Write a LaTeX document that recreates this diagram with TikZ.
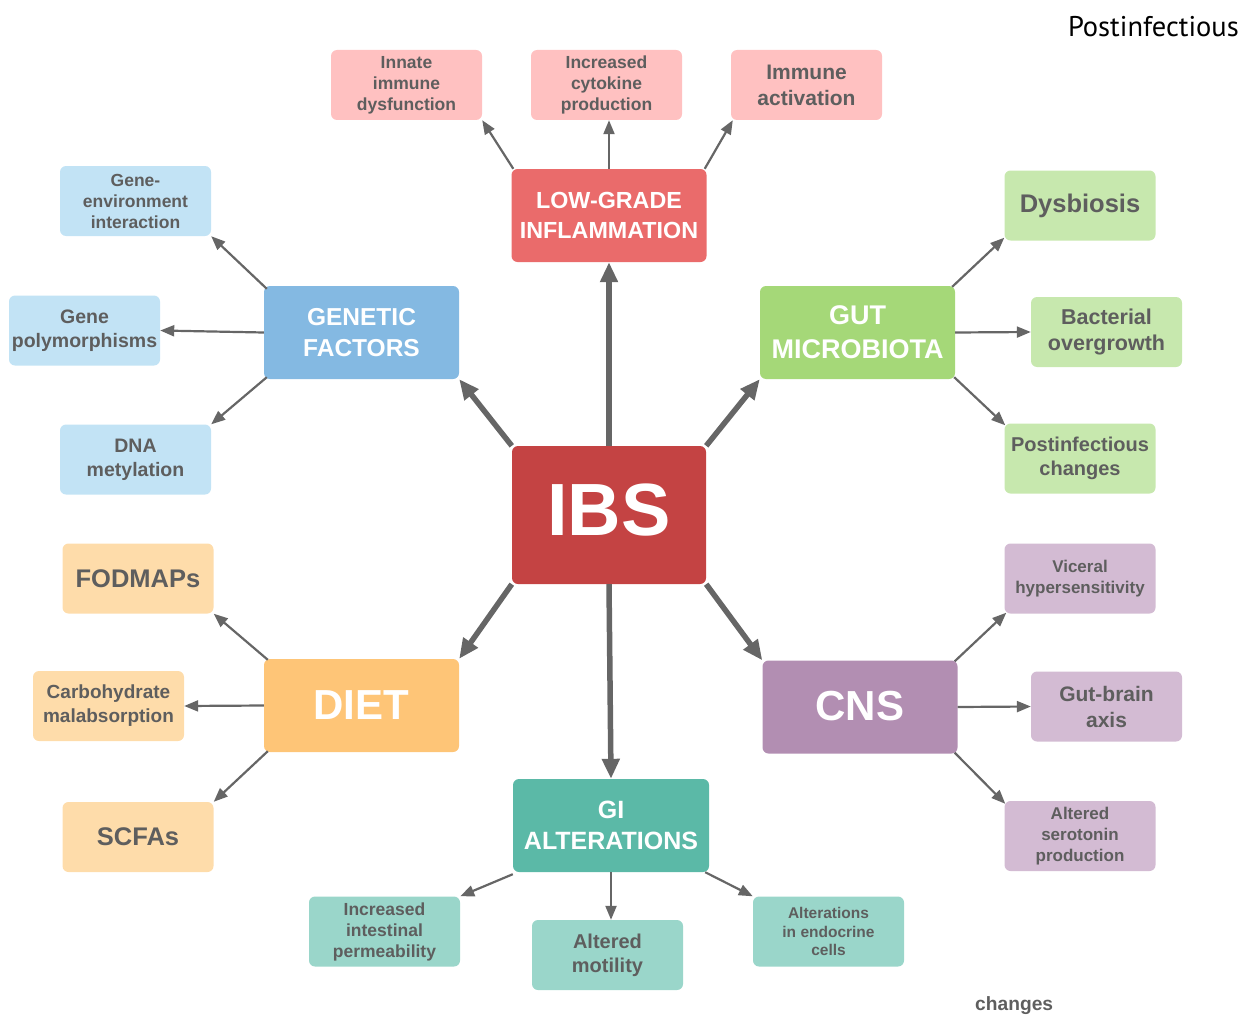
\documentclass[tikz,border=0pt]{standalone}
\usepackage{fontspec}
\setmainfont{Liberation Sans}
\newfontfamily\labelf{PT Sans}
\usetikzlibrary{arrows.meta}
\definecolor{cibs}{HTML}{C44343}
\definecolor{clgi}{HTML}{EA6B6B}
\definecolor{cpink}{HTML}{FFC1C1}
\definecolor{cgen}{HTML}{84B9E2}
\definecolor{cblue}{HTML}{C2E3F5}
\definecolor{cgut}{HTML}{A5D878}
\definecolor{cgreen}{HTML}{C7E8AE}
\definecolor{cdiet}{HTML}{FEC577}
\definecolor{corange}{HTML}{FEDCAA}
\definecolor{ccns}{HTML}{B28EB2}
\definecolor{cpurple}{HTML}{D3BBD3}
\definecolor{cgi}{HTML}{5BB9A7}
\definecolor{cteal}{HTML}{9AD6CA}
\definecolor{carrow}{HTML}{666666}
\definecolor{ctext}{HTML}{5E5E5E}
\newcommand\fsz[2]{\fontsize{#1}{#2}\selectfont}
\begin{document}
\begin{tikzpicture}[x=1pt,y=-1pt,
  box/.style={rounded corners=6pt, inner sep=0pt, align=center},
  mainbox/.style={box, text=white, minimum width=195, minimum height=93},
  subbox/.style={box, text=ctext, minimum width=151, minimum height=70},
  thick/.style={line width=5.5pt, draw=carrow, -{Triangle[length=20pt,width=17pt]}},
  thin/.style={line width=2.2pt, draw=carrow, -{Triangle[length=14pt,width=11pt]}}]
\useasboundingbox (0,0) rectangle (1241,1014);

% centre
\node[box, text=white, fill=cibs, minimum width=194, minimum height=138, font=\bfseries\fsz{74}{80}] (ibs) at (609,515) {\raisebox{10pt}{IBS}};

% main nodes
\node[mainbox, fill=clgi, font=\bfseries\fsz{23.3}{30}] (lgi) at (609,215.5) {LOW-GRADE\\INFLAMMATION};
\node[mainbox, fill=cgen, font=\bfseries\fsz{24.5}{31}] (gen) at (361.5,332.5) {GENETIC\\FACTORS};
\node[mainbox, fill=cgut, font=\bfseries\fsz{27}{34}] (gut) at (857.5,332.5) {GUT\\MICROBIOTA};
\node[mainbox, fill=cdiet, font=\bfseries\fsz{42}{48}] (diet) at (361.5,705.5) {DIET};
\node[mainbox, fill=ccns, font=\bfseries\fsz{42}{48}] (cns) at (860,707) {\raisebox{2pt}{CNS}};
\node[mainbox, fill=cgi, minimum width=196, font=\bfseries\fsz{25}{31}] (gi) at (611,825.5) {GI\\ALTERATIONS};

% inflammation subs
\node[subbox, fill=cpink, font=\bfseries\fsz{17.5}{21}] (innate) at (406.5,85) {Innate\\immune\\dysfunction};
\node[subbox, fill=cpink, font=\bfseries\fsz{17.5}{21}] (cyto) at (606.5,85) {Increased\\cytokine\\production};
\node[subbox, fill=cpink, font=\bfseries\fsz{21}{26}] (immact) at (806.5,85) {Immune\\activation};

% genetic subs
\node[subbox, fill=cblue, font=\bfseries\fsz{17.5}{21}] (geneenv) at (135.5,201) {Gene-\\environment\\interaction};
\node[subbox, fill=cblue, font=\bfseries\fsz{19.5}{24}] (poly) at (84.5,330.5) {Gene\\polymorphisms};
\node[subbox, fill=cblue, font=\bfseries\fsz{19.5}{24}] (dna) at (135.5,459.5) {DNA\\metylation};

% gut subs
\node[subbox, fill=cgreen, font=\bfseries\fsz{25.5}{30}] (dysb) at (1080,205.5) {Dysbiosis};
\node[subbox, fill=cgreen, font=\bfseries\fsz{21.5}{26}] (bact) at (1106.5,332) {Bacterial\\overgrowth};
\node[subbox, fill=cgreen, font=\bfseries\fsz{20}{24}] (postinf) at (1080,458.5) {Postinfectious\\changes};

% diet subs
\node[subbox, fill=corange, font=\bfseries\fsz{25.5}{30}] (fodmap) at (138,578.5) {FODMAPs};
\node[subbox, fill=corange, font=\bfseries\fsz{19}{24}] (carb) at (108.5,706) {Carbohydrate\\malabsorption};
\node[subbox, fill=corange, font=\bfseries\fsz{25.5}{30}] (scfa) at (138,837) {SCFAs};

% cns subs
\node[subbox, fill=cpurple, font=\bfseries\fsz{17}{21}] (visc) at (1080,578.5) {Viceral\\hypersensitivity};
\node[subbox, fill=cpurple, font=\bfseries\fsz{21}{26}] (gutbrain) at (1106.5,706.5) {Gut-brain\\axis};
\node[subbox, fill=cpurple, font=\bfseries\fsz{17}{21}] (sero) at (1080,836) {Altered\\serotonin\\production};

% gi subs
\node[subbox, fill=cteal, font=\bfseries\fsz{17.5}{21}] (perm) at (384.5,931.5) {Increased\\intestinal\\permeability};
\node[subbox, fill=cteal, font=\bfseries\fsz{20}{24}] (motil) at (607.5,955) {Altered\\motility};
\node[subbox, fill=cteal, font=\bfseries\fsz{15.5}{18.5}] (endo) at (828.5,931.5) {Alterations\\in endocrine\\cells};

% stray labels
\node[anchor=east, inner sep=0pt, font=\labelf\fsz{28.5}{32}, text=black] (lblpost) at (1239,27) {Postinfectious};
\node[anchor=base west, inner sep=0pt, font=\bfseries\fsz{19.2}{23}, text=ctext] (lblchg) at (975,1010) {changes};

% thick arrows
\draw[thick] (ibs.north) -- (lgi.south);
\draw[thick] (ibs.north west) -- (gen.south east);
\draw[thick] (ibs.north east) -- (gut.south west);
\draw[thick] (ibs.south west) -- (diet.north east);
\draw[thick] (ibs.south) -- (gi.north);
\draw[thick] (ibs.south east) -- (cns.north west);

% thin arrows
\draw[thin] ([xshift=2pt]lgi.north west) -- (innate.south east);
\draw[thin] (lgi.north) -- (lgi.north |- cyto.south);
\draw[thin] ([xshift=-2pt]lgi.north east) -- ([xshift=2pt]immact.south west);

\draw[thin] ([shift={(3,3)}]gen.north west) -- (geneenv.south east);
\draw[thin] (gen.west) -- (poly.east);
\draw[thin] ([shift={(3,-2)}]gen.south west) -- (dna.north east);

\draw[thin] ([shift={(-3,1)}]gut.north east) -- ([yshift=3pt]dysb.south west);
\draw[thin] (gut.east) -- (bact.west);
\draw[thin] ([shift={(-1,-2)}]gut.south east) -- ([shift={(1,2)}]postinf.north west);

\draw[thin] ([shift={(4,1)}]diet.north west) -- (fodmap.south east);
\draw[thin] (diet.west) -- (carb.east);
\draw[thin] ([shift={(4,-1)}]diet.south west) -- (scfa.north east);

\draw[thin] ([shift={(-3,1)}]cns.north east) -- ([shift={(2,-1)}]visc.south west);
\draw[thin] (cns.east) -- (gutbrain.west);
\draw[thin] ([shift={(-3,-1)}]cns.south east) -- ([shift={(1,3)}]sero.north west);

\draw[thin] ([yshift=-2pt]gi.south west) -- (perm.north east);
\draw[thin] (gi.south) -- (gi.south |- motil.north);
\draw[thin] ([xshift=-4pt]gi.south east) -- (endo.north west);
\end{tikzpicture}
\end{document}
